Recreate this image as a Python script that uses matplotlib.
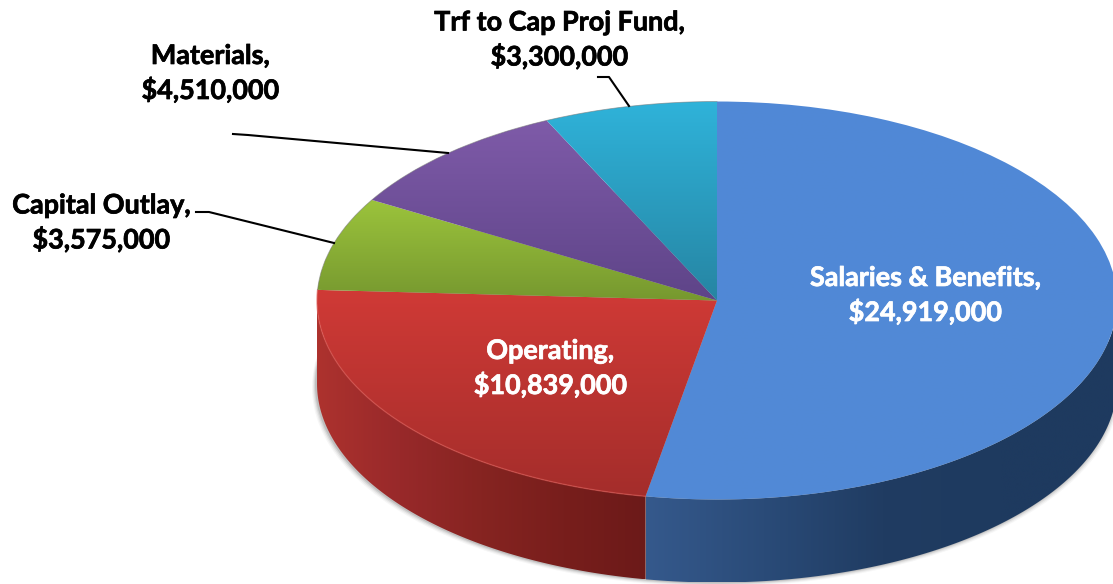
import numpy as np
import matplotlib
matplotlib.use("Agg")
import matplotlib.pyplot as plt
import matplotlib.patheffects as pe
from matplotlib.colors import to_rgb
from matplotlib.patches import Wedge, Polygon, Ellipse
from matplotlib.transforms import Affine2D

plt.rcParams["font.family"] = ["Lato", "DejaVu Sans"]

# data
categories = ["Salaries & Benefits", "Operating", "Capital Outlay", "Materials", "Trf to Cap Proj Fund"]
amounts = [24919000, 10839000, 3575000, 4510000, 3300000]

# top face gradient (top colour, bottom colour)
top_colors = [("#5088d6", "#528ad6"), ("#d03a36", "#a42d2b"), ("#9cc43c", "#76982f"),
              ("#7f5ba9", "#5e4488"), ("#2fb3da", "#2685a3")]
# side gradient, left to right, only the two front slices show a side
side_colors = {0: ["#35598c", "#2a4b78", "#203c62", "#1e3a5f", "#1e3a5f"],
               1: ["#ad322e", "#98292a", "#862421", "#781e1c", "#6c1a19"]}

W, H = 1113, 584
CX, CY = 717, 300.5
RX, RY = 400, 199
DEPTH = 83

fig = plt.figure(figsize=(W / 100, H / 100), dpi=100)
ax = fig.add_axes([0, 0, 1, 1])
ax.axis("off")


def arc(t1, t2, dy=0):
    # points on the pie rim between two angles, in pixels
    t = np.radians(np.linspace(t1, t2, 200))
    return np.column_stack([CX + RX * np.cos(t), CY + dy - RY * np.sin(t)])


def gradient(stops, extent, clip, vertical=True, z=2):
    rgb = np.array([to_rgb(c) for c in stops])
    pos = np.linspace(0, 1, len(stops))
    s = np.linspace(0, 1, 256)
    a = np.column_stack([np.interp(s, pos, rgb[:, k]) for k in range(3)])
    img = a[:, None, :] if vertical else a[None, :, :]
    im = ax.imshow(img, extent=extent, aspect="auto", zorder=z, interpolation="bilinear")
    im.set_clip_path(clip)


# soft shadow below the pie
for off, alpha in [(4, 0.05), (3, 0.08), (2, 0.12), (1, 0.18)]:
    ax.add_patch(Ellipse((CX - 1, CY + DEPTH + off), 2 * RX + 2 * off, 2 * RY, fc="#555555",
                         ec="none", alpha=alpha, zorder=1))

# angles, clockwise from twelve o'clock
shares = np.array(amounts) / np.sum(amounts) * 360
ends = 90 - np.cumsum(shares)
starts = ends + shares

ellipse_tf = Affine2D().scale(RX, -RY).translate(CX, CY) + ax.transData

for i in range(len(amounts)):
    # side wall
    if i in side_colors:
        t1, t2 = min(starts[i], 0), max(ends[i], -180)
        pts = np.vstack([arc(t1, t2), arc(t2, t1, DEPTH)])
        side = Polygon(pts, closed=True, fc="none", ec="none", transform=ax.transData)
        ax.add_patch(side)
        gradient(side_colors[i],
                 (pts[:, 0].min(), pts[:, 0].max(), pts[:, 1].max(), pts[:, 1].min()),
                 side, vertical=False, z=2)

    # top face, the negative y scale and the flipped axis cancel out
    w = Wedge((0, 0), 1, ends[i], starts[i], fc="none", ec="none", transform=ellipse_tf)
    ax.add_patch(w)
    t = np.radians(np.linspace(ends[i], starts[i], 300))
    ys = np.r_[CY, CY - RY * np.sin(t)]
    xs = np.r_[CX, CX + RX * np.cos(t)]
    gradient(top_colors[i], (xs.min() - 1, xs.max() + 1, ys.max() + 1, ys.min() - 1), w, z=3)

# light rim on the red slice, thin grey rim at the back
ax.plot(*arc(starts[1], ends[1]).T, color="#dc5550", lw=1, alpha=0.6, zorder=4)
ax.plot(*arc(ends[1], -270).T, color="#777777", lw=0.6, alpha=0.6, zorder=4)

# leader lines
ax.plot([196, 209, 334], [212, 212, 243], color="black", lw=1.5, zorder=5)
ax.plot([233, 248, 448], [134, 135, 153], color="black", lw=1.5, zorder=5)
ax.plot([598, 609, 629], [77, 77, 106], color="black", lw=1.5, zorder=5)

# labels
label_pos = [(925, 295.5, "white"), (550, 368.5, "white"), (101, 223, "black"),
             (210, 73.5, "black"), (559, 40, "black")]
for cat, val, (x, y, col) in zip(categories, amounts, label_pos):
    txt = ax.text(x, y, f"{cat},\n${val:,}", ha="center", va="center", color=col, fontsize=19.4,
                  fontweight="bold", linespacing=1.41, parse_math=False, zorder=6)
    # Lato bold is a little lighter than the original face
    txt.set_path_effects([pe.withStroke(linewidth=0.5, foreground=col)])

ax.set_xlim(0, W)
ax.set_ylim(H, 0)

fig.savefig("out.png", dpi=100)
